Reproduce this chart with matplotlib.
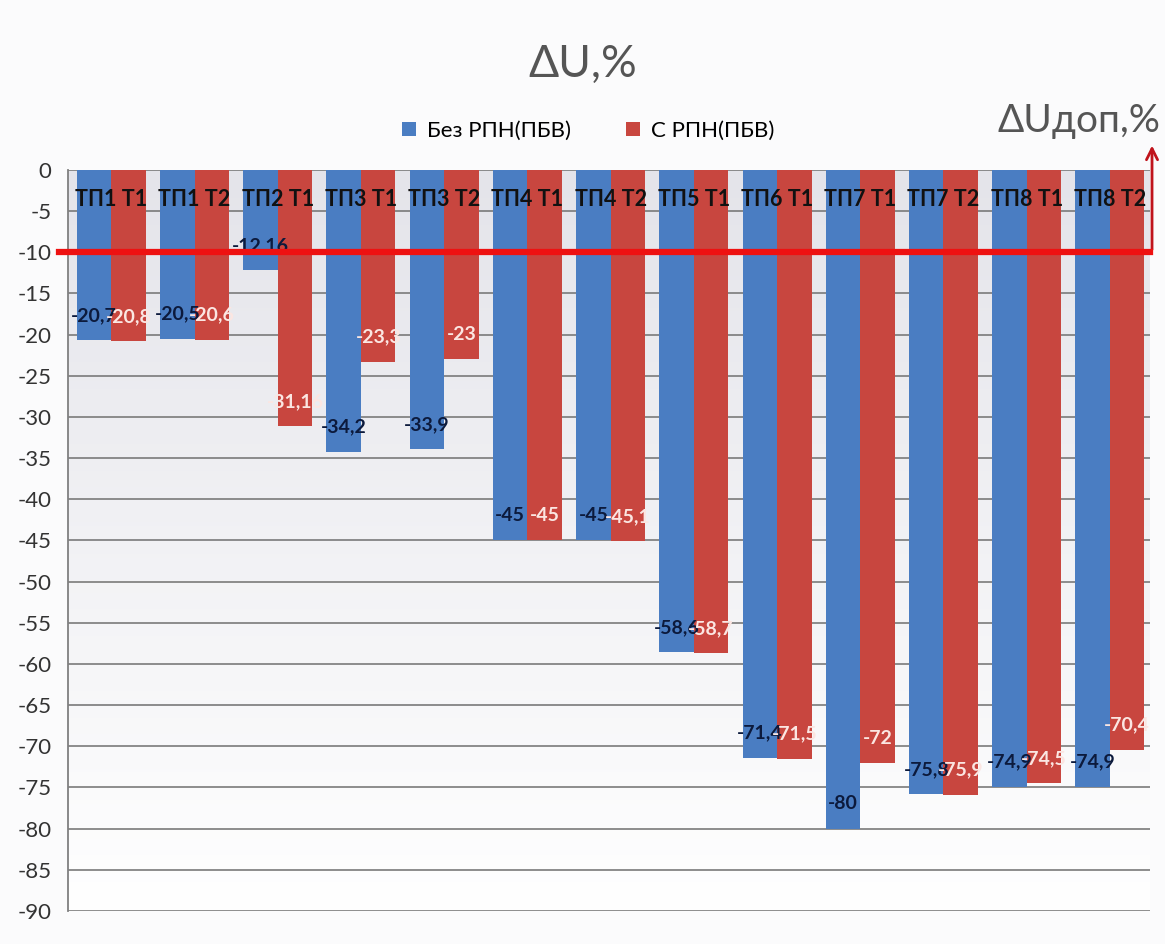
import numpy as np
import matplotlib.pyplot as plt

categories = ['ТП1 Т1', 'ТП1 Т2', 'ТП2 Т1', 'ТП3 Т1', 'ТП3 Т2', 'ТП4 Т1', 'ТП4 Т2',
              'ТП5 Т1', 'ТП6 Т1', 'ТП7 Т1', 'ТП7 Т2', 'ТП8 Т1', 'ТП8 Т2']
bez_rpn = [-20.7, -20.5, -12.16, -34.2, -33.9, -45, -45, -58.6, -71.4, -80, -75.8, -74.9, -74.9]
s_rpn = [-20.8, -20.6, -31.16, -23.3, -23, -45, -45.1, -58.7, -71.5, -72, -75.9, -74.5, -70.4]
du_dop = -10

plt.rcParams['font.family'] = ['Lato', 'DejaVu Sans']
plt.rcParams['axes.unicode_minus'] = False

fig = plt.figure(figsize=(11.65, 9.44), dpi=100)
fig.patch.set_facecolor('#fbfbfc')
ax = fig.add_axes([0.0584, 0.035, 0.9286, 0.785])

x = np.arange(len(categories))
w = 0.415
blue = '#4a7dc2'
red = '#c8463f'

# plot area gradient
grad = np.linspace(0, 1, 256).reshape(-1, 1)
ax.imshow(grad, extent=[-0.5, len(categories) - 0.5, -90, 0], aspect='auto',
          cmap=plt.matplotlib.colors.LinearSegmentedColormap.from_list('g', ['#e4e4ea', '#ffffff']),
          origin='upper', zorder=0)

ax.bar(x - w / 2 + 0.02, bez_rpn, w, color=blue, label='Без РПН(ПБВ)', zorder=2)
ax.bar(x + w / 2 + 0.02, s_rpn, w, color=red, label='С РПН(ПБВ)', zorder=2)

def fmt(v):
    return ('%g' % v).replace('.', ',')

for i in range(len(categories)):
    ax.text(x[i] - w / 2 + 0.02, bez_rpn[i] + 3, fmt(bez_rpn[i]), ha='center', va='center',
            fontsize=14, fontweight='bold', color='#0c1a3c', zorder=4)
    ax.text(x[i] + w / 2 + 0.02, s_rpn[i] + 3, fmt(s_rpn[i]), ha='center', va='center',
            fontsize=14, fontweight='bold', color='#fbe6e2', zorder=4)
    ax.text(x[i] + 0.02, -3.6, categories[i], ha='center', va='center',
            fontsize=15.5, fontweight='bold', color='#111111', zorder=4)

ax.axhline(du_dop, xmin=-0.008, xmax=1.0, color='#ee1111', lw=4.5, zorder=5, clip_on=False)
ax.annotate('', xy=(1.002, 3.3), xytext=(1.002, du_dop),
            xycoords=('axes fraction', 'data'),
            arrowprops=dict(arrowstyle='->', color='#c0141c', lw=2, mutation_scale=20),
            annotation_clip=False)
fig.text(0.996, 0.872, 'ΔUдоп,%', ha='right', va='center', fontsize=28, color='#555555')

ax.set_xlim(-0.5, len(categories) - 0.5)
ax.set_ylim(-90, 0)
ax.set_yticks(np.arange(-90, 1, 5))
ax.tick_params(axis='y', labelsize=16, colors='#333333', length=0, pad=12)
ax.set_xticks([])
ax.grid(axis='y', color='#7a7a7a', lw=1.2, zorder=1)
ax.set_axisbelow(True)
for s in ['top', 'right', 'bottom']:
    ax.spines[s].set_visible(False)
ax.spines['left'].set_color('#808080')
ax.spines['left'].set_linewidth(1.3)

fig.text(0.5, 0.932, 'ΔU,%', ha='center', va='center', fontsize=32, color='#555555')
fig.legend(loc='center', bbox_to_anchor=(0.505, 0.861), ncol=2, frameon=False,
           fontsize=16, handlelength=0.6, handleheight=0.6, columnspacing=2.5, handletextpad=0.5)

fig.savefig('out.png', dpi=100)
